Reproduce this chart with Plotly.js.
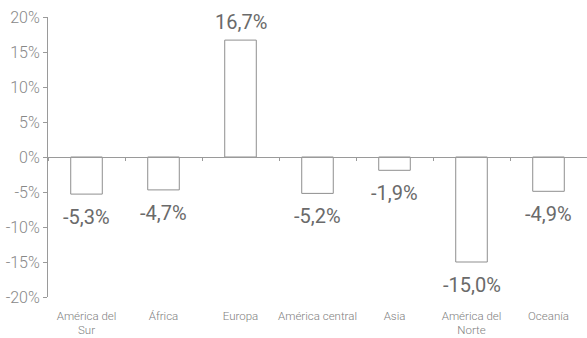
<!DOCTYPE html>
<html>
<head>
<meta charset="utf-8">
<script src="https://cdn.plot.ly/plotly-3.0.1.min.js"></script>
<style>html,body{margin:0;padding:0;background:#fff}#chart{width:587px;height:338px}</style>
</head>
<body>
<div id="chart"></div>
<script>
var categories = ["América del<br>Sur", "África", "Europa", "América central", "Asia", "América del<br>Norte", "Oceanía"];
var values = [-5.3, -4.7, 16.7, -5.2, -1.9, -15.0, -4.9];
var yTickVals = [-20, -15, -10, -5, 0, 5, 10, 15, 20];
var yTickText = ["-20%", "-15%", "-10%", "-5%", "0%", "5%", "10%", "15%", "20%"];

function fmt(v) {
  var s = Math.abs(v).toFixed(1).replace(".", ",");
  return (v < 0 ? "-" : "") + s + "%";
}

var labels = values.map(fmt);

var bars = {
  type: "bar",
  x: categories,
  y: values,
  width: 0.41,
  marker: {color: "#ffffff", line: {color: "#8f8f8f", width: 1}},
  hoverinfo: "none"
};

var tickTrace = {
  type: "scatter",
  x: categories,
  y: values.map(function(){return null;}),
  xaxis: "x2",
  yaxis: "y",
  mode: "markers",
  hoverinfo: "none",
  showlegend: false
};

var annotations = values.map(function(v, i) {
  return {
    x: categories[i],
    y: v,
    xref: "x",
    yref: "y",
    text: labels[i],
    showarrow: false,
    xanchor: "center",
    yanchor: v >= 0 ? "bottom" : "top",
    yshift: v >= 0 ? 4 : -9,
    font: {family: "Roboto", size: 20, color: "#6a6a6a", weight: 400}
  };
});

var layout = {
  width: 587,
  height: 338,
  margin: {l: 48, r: 0, t: 17, b: 41},
  paper_bgcolor: "#ffffff",
  plot_bgcolor: "#ffffff",
  showlegend: false,
  annotations: annotations,
  xaxis: {
    type: "category",
    showline: false,
    showgrid: false,
    zeroline: false,
    ticks: "",
    ticklabelstandoff: 10,
    tickfont: {family: "Roboto", size: 11.5, color: "#808080", weight: 300},
    automargin: false
  },
  xaxis2: {
    type: "category",
    overlaying: "x",
    matches: "x",
    anchor: "free",
    position: 0.5,
    showline: true,
    linecolor: "#9a9a9a",
    linewidth: 1,
    ticks: "outside",
    tickson: "boundaries",
    ticklen: 3,
    tickcolor: "#9a9a9a",
    showticklabels: false,
    showgrid: false,
    zeroline: false
  },
  yaxis: {
    range: [-20, 20],
    tickvals: yTickVals,
    ticktext: yTickText,
    showgrid: false,
    zeroline: false,
    showline: true,
    linecolor: "#9a9a9a",
    linewidth: 1,
    ticks: "outside",
    ticklen: 4,
    tickcolor: "#9a9a9a",
    tickfont: {family: "Roboto", size: 16, color: "#888888", weight: 300},
    automargin: false
  }
};

Plotly.newPlot("chart", [bars, tickTrace], layout, {staticPlot: true, displayModeBar: false});
</script>
</body>
</html>
